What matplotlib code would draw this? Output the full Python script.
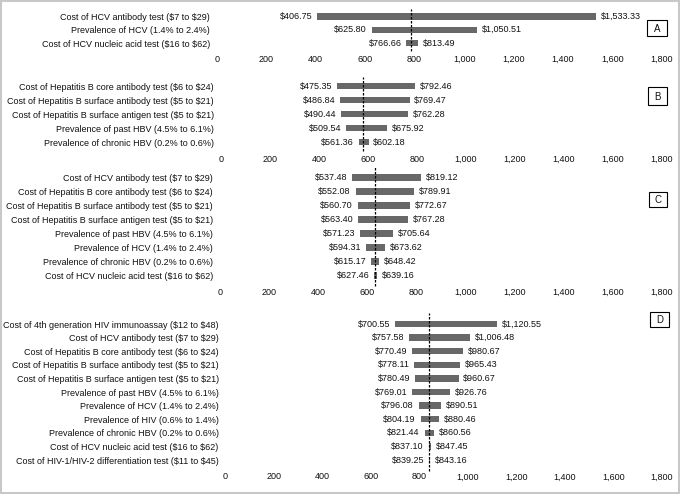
import matplotlib.pyplot as plt
from matplotlib.patches import Rectangle

plt.rcParams['font.family'] = ['Liberation Sans', 'DejaVu Sans']
plt.rcParams['text.parse_math'] = False

# panel A
labels_a = ["Cost of HCV antibody test ($7 to $29)",
            "Prevalence of HCV (1.4% to 2.4%)",
            "Cost of HCV nucleic acid test ($16 to $62)"]
low_a = [406.75, 625.80, 766.66]
high_a = [1533.33, 1050.51, 813.49]
base_a = 785

# panel B
labels_b = ["Cost of Hepatitis B core antibody test ($6 to $24)",
            "Cost of Hepatitis B surface antibody test ($5 to $21)",
            "Cost of Hepatitis B surface antigen test ($5 to $21)",
            "Prevalence of past HBV (4.5% to 6.1%)",
            "Prevalence of chronic HBV (0.2% to 0.6%)"]
low_b = [475.35, 486.84, 490.44, 509.54, 561.36]
high_b = [792.46, 769.47, 762.28, 675.92, 602.18]
base_b = 578

# panel C
labels_c = ["Cost of HCV antibody test ($7 to $29)",
            "Cost of Hepatitis B core antibody test ($6 to $24)",
            "Cost of Hepatitis B surface antibody test ($5 to $21)",
            "Cost of Hepatitis B surface antigen test ($5 to $21)",
            "Prevalence of past HBV (4.5% to 6.1%)",
            "Prevalence of HCV (1.4% to 2.4%)",
            "Prevalence of chronic HBV (0.2% to 0.6%)",
            "Cost of HCV nucleic acid test ($16 to $62)"]
low_c = [537.48, 552.08, 560.70, 563.40, 571.23, 594.31, 615.17, 627.46]
high_c = [819.12, 789.91, 772.67, 767.28, 705.64, 673.62, 648.42, 639.16]
base_c = 632

# panel D
labels_d = ["Cost of 4th generation HIV immunoassay ($12 to $48)",
            "Cost of HCV antibody test ($7 to $29)",
            "Cost of Hepatitis B core antibody test ($6 to $24)",
            "Cost of Hepatitis B surface antibody test ($5 to $21)",
            "Cost of Hepatitis B surface antigen test ($5 to $21)",
            "Prevalence of past HBV (4.5% to 6.1%)",
            "Prevalence of HCV (1.4% to 2.4%)",
            "Prevalence of HIV (0.6% to 1.4%)",
            "Prevalence of chronic HBV (0.2% to 0.6%)",
            "Cost of HCV nucleic acid test ($16 to $62)",
            "Cost of HIV-1/HIV-2 differentiation test ($11 to $45)"]
low_d = [700.55, 757.58, 770.49, 778.11, 780.49, 769.01, 796.08, 804.19, 821.44, 837.10, 839.25]
high_d = [1120.55, 1006.48, 980.67, 965.43, 960.67, 926.76, 890.51, 880.46, 860.56, 847.45, 843.16]
base_d = 841

xticks = [0, 200, 400, 600, 800, 1000, 1200, 1400, 1600, 1800]

W, H = 680, 494
fig = plt.figure(figsize=(W / 100, H / 100), dpi=100)

# (letter, labels, low, high, base, left px, first row px, row spacing px, box px)
panels = [
    ("A", labels_a, low_a, high_a, base_a, 216.7, 16.5, 13.3, (647, 20, 20, 16)),
    ("B", labels_b, low_b, high_b, base_b, 221.0, 86.0, 14.0, (648, 87, 19, 18)),
    ("C", labels_c, low_c, high_c, base_c, 220.0, 177.3, 14.06, (649, 192, 18, 15)),
    ("D", labels_d, low_d, high_d, base_d, 225.6, 324.0, 13.6, (650, 312, 19, 15)),
]
right_px = 662
fs = 6.5
txt = '#111111'

def money(v):
    return "${:,.2f}".format(v)

for letter, labels, low, high, base, left_px, y0, dy, box in panels:
    n = len(labels)
    top_px = y0 - dy / 2
    bot_px = y0 + (n - 1) * dy + dy / 2
    ax = fig.add_axes([left_px / W, 1 - bot_px / H,
                       (right_px - left_px) / W, (bot_px - top_px) / H])
    ys = list(range(n))
    widths = [h - l for l, h in zip(low, high)]
    ax.barh(ys, widths, left=low, height=0.47, color='#686868')
    for y, l, h in zip(ys, low, high):
        ax.annotate(money(l), (l, y), xytext=(-3.5, 0), textcoords='offset points',
                    ha='right', va='center', fontsize=fs, color=txt)
        ax.annotate(money(h), (h, y), xytext=(3.5, 0), textcoords='offset points',
                    ha='left', va='center', fontsize=fs, color=txt)
    ax.axvline(base, ymin=-0.03, ymax=1.03, color='black', lw=0.9,
               ls=(0, (2, 1.2)), clip_on=False)
    ax.set_xlim(0, 1800)
    ax.set_ylim(n - 0.5, -0.5)
    ax.set_yticks(ys)
    ax.set_yticklabels(labels, fontsize=fs, color=txt)
    ax.set_xticks(xticks)
    ax.set_xticklabels(["{:,}".format(t) for t in xticks], fontsize=fs, color=txt)
    ax.tick_params(axis='y', length=0, pad=5)
    ax.tick_params(axis='x', length=0, pad=4)
    for s in ax.spines.values():
        s.set_visible(False)
    ax.patch.set_alpha(0)
    bx, by, bw, bh = box
    fig.patches.append(Rectangle((bx / W, 1 - (by + bh) / H), bw / W, bh / H,
                                 transform=fig.transFigure, fill=False,
                                 edgecolor='black', lw=0.8))
    fig.text((bx + bw / 2) / W, 1 - (by + bh / 2 + 0.5) / H, letter,
             ha='center', va='center', fontsize=7, color=txt)

fig.patches.append(Rectangle((0.5 / W, 1.5 / H), (W - 2) / W, (H - 3) / H,
                             transform=fig.transFigure, fill=False,
                             edgecolor='#c8c8c8', lw=1.5))

fig.savefig('out.png', dpi=100)
